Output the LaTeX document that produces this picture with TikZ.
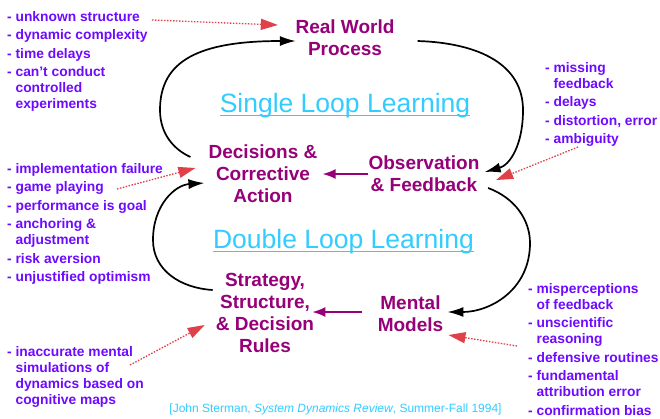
\documentclass[tikz,border=0pt]{standalone}
\usepackage{fontspec}
\setmainfont{Liberation Sans}
\usetikzlibrary{arrows.meta}
\definecolor{listc}{RGB}{110,10,255}
\definecolor{nodec}{RGB}{150,0,120}
\definecolor{titlec}{RGB}{51,204,255}
\definecolor{redc}{RGB}{224,64,72}
\newcommand{\ind}{\hphantom{- }}
\begin{document}
\begin{tikzpicture}[x=1pt,y=-1pt,
 mainnode/.style={font=\fontsize{19}{22}\selectfont\bfseries, text=nodec, align=center, inner sep=0pt},
 listnode/.style={font=\fontsize{13.8}{16}\selectfont\bfseries, text=listc, align=left, inner sep=0pt, anchor=north west},
 looptitle/.style={font=\fontsize{26.5}{30}\selectfont, text=titlec, inner sep=0pt, anchor=base},
 titleline/.style={draw=titlec, line width=1.2pt},
 loopline/.style={line width=1.7pt, -{Latex[length=16pt,width=10pt]}},
 linkarrow/.style={draw=nodec, line width=1.8pt, -{Latex[length=13pt,width=10pt]}},
 redarrow/.style={draw=redc, dash pattern=on 1.5pt off 1.5pt, line width=1.3pt, -{Triangle[length=17pt,width=11pt]}},
 cite/.style={font=\fontsize{12}{14}\selectfont, text=titlec, inner sep=0pt}
]
\fill[white] (0,0) rectangle (660,418);
\useasboundingbox (0,0) rectangle (660,418);

% main nodes
\node[mainnode] (rw) at (345,38) {Real World\\Process};
\node[mainnode] (dec) at (263,174) {Decisions \&\\Corrective\\Action};
\node[mainnode] (obs) at (424,174) {Observation\\\& Feedback};
\node[mainnode] (strat) at (265,313) {Strategy,\\Structure,\\\& Decision\\Rules};
\node[mainnode] (mm) at (410.5,314) {Mental\\Models};

% titles
\node[looptitle] (sl) at (345,112) {Single Loop Learning};
\draw[titleline] ([yshift=-3.5pt]sl.base west) -- ([yshift=-3.5pt]sl.base east);
\node[looptitle] (dl) at (343.5,248) {Double Loop Learning};
\draw[titleline] ([yshift=-3.5pt]dl.base west) -- ([yshift=-3.5pt]dl.base east);

% lists
\node[listnode] (l1) at (7,11) {- unknown structure\\[2.5pt]
- dynamic complexity\\[2.5pt]
- time delays\\[2.5pt]
- can't conduct\\
\ind controlled\\
\ind experiments};
\node[listnode] (l2) at (7,163) {- implementation failure\\[2.5pt]
- game playing\\[2.5pt]
- performance is goal\\[2.5pt]
- anchoring \&\\
\ind adjustment\\[2.5pt]
- risk aversion\\[2.5pt]
- unjustified optimism};
\node[listnode] (l3) at (7,346) {- inaccurate mental\\
\ind simulations of\\
\ind dynamics based on\\
\ind cognitive maps};
\node[listnode] (r1) at (545,62) {- missing\\
\ind feedback\\[2.5pt]
- delays\\[2.5pt]
- distortion, error\\[2.5pt]
- ambiguity};
\node[listnode] (r2) at (528,283) {- misperceptions\\
\ind of feedback\\[2.5pt]
- unscientific\\
\ind reasoning\\[2.5pt]
- defensive routines\\[2.5pt]
- fundamental\\
\ind attribution error\\[2.5pt]
- confirmation bias};

% citation
\node[cite] (ct) at (335.5,409) {[John Sterman, \textit{System Dynamics Review}, Summer-Fall 1994]};

% loop curves
\draw[loopline] ([shift={(-18,-17)}]dec.west) .. controls (175,150) and (160,135) .. (160,110)
  .. controls (160,60) and (200,41) .. ([shift={(0.5,3)}]rw.west);
\draw[loopline] ([shift={(23,3)}]rw.east) .. controls (480,43) and (523,65) .. (523,110)
  .. controls (523,145) and (510,165) .. ([shift={(5,-2)}]obs.east);
\draw[loopline] ([shift={(8.5,14)}]obs.east) .. controls (515,198) and (530,220) .. (530,243)
  .. controls (530,290) and (490,312) .. ([shift={(4,-2)}]mm.east);
\draw[loopline] ([shift={(-3,-23)}]strat.west) .. controls (180,288) and (153,270) .. (153,240)
  .. controls (153,205) and (175,185) .. ([shift={(-4,9)}]dec.west);

% purple links
\draw[linkarrow] (obs.west) -- ([xshift=5pt]dec.east);
\draw[linkarrow] ([shift={(-16,-2)}]mm.west) -- ([shift={(-2,-1)}]strat.east);

% red dotted arrows
\coordinate (s1) at (152,20);
\coordinate (s2) at (578,147);
\coordinate (s3) at (117,189);
\coordinate (s4) at (517,346);
\coordinate (s5) at (130,365);
\draw[redarrow] (s1) -- ([shift={(-17.5,-13)}]rw.west);
\draw[redarrow] (s2) -- ([shift={(16.5,6)}]obs.east);
\draw[redarrow] (s3) -- ([shift={(-13,-6)}]dec.west);
\draw[redarrow] (s4) -- ([shift={(5,21)}]mm.east);
\draw[redarrow] (s5) -- ([shift={(-11,12)}]strat.west);
\end{tikzpicture}
\end{document}
